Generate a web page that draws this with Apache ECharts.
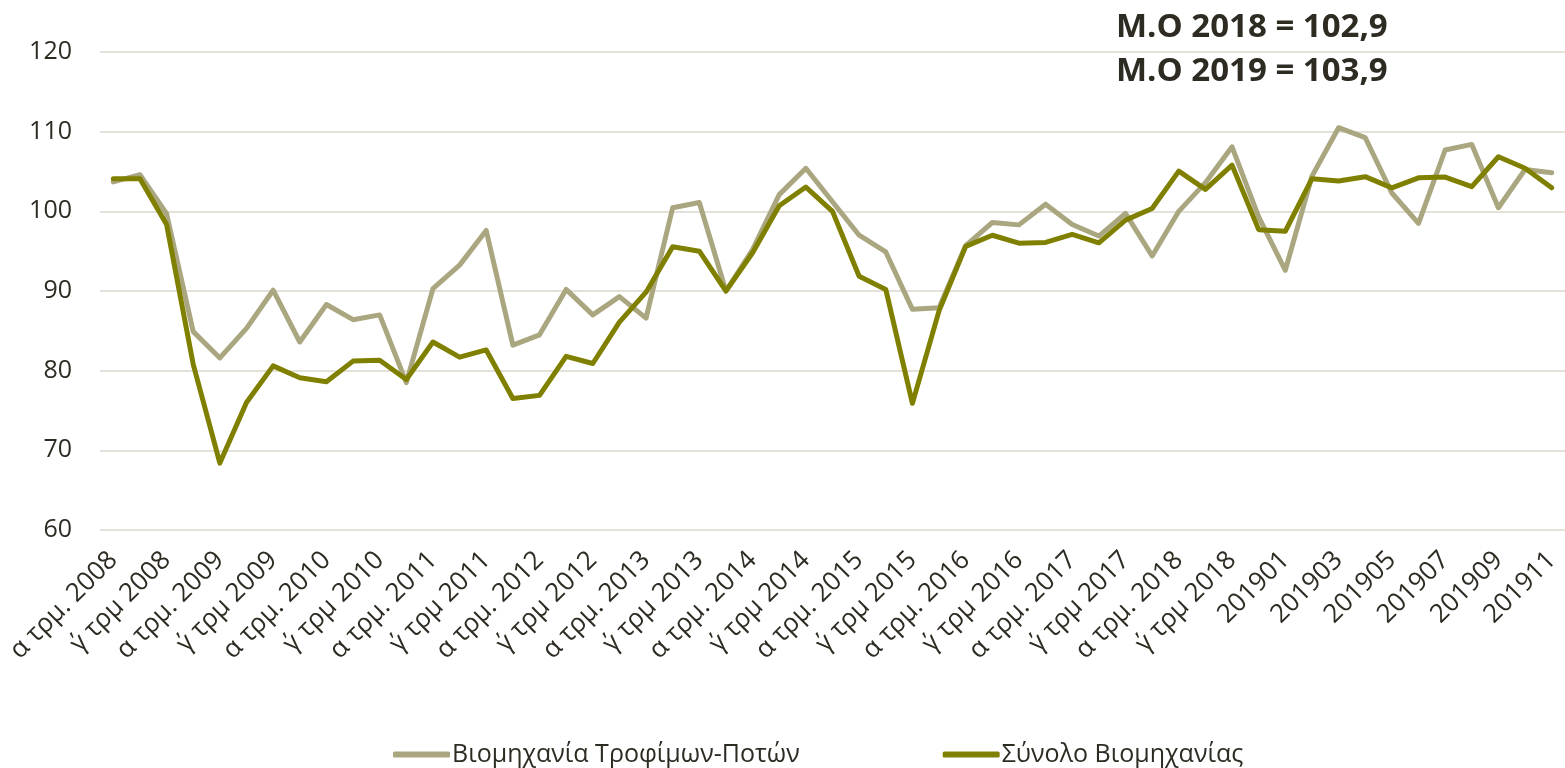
<!DOCTYPE html>
<html>
<head>
<meta charset="utf-8">
<script src="https://cdn.jsdelivr.net/npm/echarts@6/dist/echarts.min.js"></script>
<style>
  html, body { margin: 0; padding: 0; background: #fff; }
  #chart { width: 1565px; height: 768px; }
</style>
</head>
<body>
<div id="chart"></div>
<script>
const categories = [
  "α τρμ. 2008", "β΄ τρμ 2008", "γ΄ τρμ 2008", "δ΄ τρμ 2008",
  "α τρμ. 2009", "β΄ τρμ 2009", "γ΄ τρμ 2009", "δ΄ τρμ 2009",
  "α τρμ. 2010", "β΄ τρμ 2010", "γ΄ τρμ 2010", "δ΄ τρμ 2010",
  "α τρμ. 2011", "β΄ τρμ 2011", "γ΄ τρμ 2011", "δ΄ τρμ 2011",
  "α τρμ. 2012", "β΄ τρμ 2012", "γ΄ τρμ 2012", "δ΄ τρμ 2012",
  "α τρμ. 2013", "β΄ τρμ 2013", "γ΄ τρμ 2013", "δ΄ τρμ 2013",
  "α τρμ. 2014", "β΄ τρμ 2014", "γ΄ τρμ 2014", "δ΄ τρμ 2014",
  "α τρμ. 2015", "β΄ τρμ 2015", "γ΄ τρμ 2015", "δ΄ τρμ 2015",
  "α τρμ. 2016", "β΄ τρμ 2016", "γ΄ τρμ 2016", "δ΄ τρμ 2016",
  "α τρμ. 2017", "β΄ τρμ 2017", "γ΄ τρμ 2017", "δ΄ τρμ 2017",
  "α τρμ. 2018", "β΄ τρμ 2018", "γ΄ τρμ 2018", "δ΄ τρμ 2018",
  "201901", "201902", "201903", "201904", "201905", "201906",
  "201907", "201908", "201909", "201910", "201911"
];

// Βιομηχανία Τροφίμων-Ποτών
const foodDrinks = [
  103.7, 104.6, 99.7, 84.9, 81.6, 85.3, 90.1, 83.6, 88.3, 86.4,
  87.0, 78.5, 90.3, 93.25, 97.6, 83.2, 84.5, 90.2, 87.0, 89.3,
  86.6, 100.45, 101.1, 90.0, 95.2, 102.1, 105.4, 101.2, 97.0, 94.9,
  87.7, 87.9, 95.7, 98.6, 98.3, 100.9, 98.35, 96.9, 99.75, 94.4,
  100.0, 103.6, 108.1, 99.3, 92.6, 104.4, 110.5, 109.25, 102.3, 98.5,
  107.7, 108.4, 100.45, 105.25, 104.85
];

// Σύνολο Βιομηχανίας
const industryTotal = [
  104.1, 104.1, 98.35, 80.8, 68.4, 76.0, 80.6, 79.1, 78.6, 81.2,
  81.3, 78.9, 83.6, 81.7, 82.6, 76.5, 76.9, 81.8, 80.9, 86.1,
  89.85, 95.55, 95.0, 90.0, 94.8, 100.7, 103.05, 100.0, 91.85, 90.2,
  75.9, 87.5, 95.6, 97.0, 96.0, 96.1, 97.1, 96.05, 98.9, 100.35,
  105.05, 102.75, 105.8, 97.7, 97.5, 104.1, 103.8, 104.35, 102.95, 104.2,
  104.3, 103.1, 106.85, 105.4, 102.95
];

const seriesNames = ["Βιομηχανία Τροφίμων-Ποτών", "Σύνολο Βιομηχανίας"];
const averageNotes = ["M.O 2018 = 102,9", "M.O 2019 = 103,9"];

const FONT = "'Open Sans', 'Noto Sans', sans-serif";
const TEXT = "#2e2b22";
const LIGHT = "#aaa680";
const DARK = "#808000";
const GRID = "#e4e1d8";

const chart = echarts.init(document.getElementById("chart"), null, { renderer: "canvas" });

chart.setOption({
  animation: false,
  textStyle: { fontFamily: FONT, color: TEXT },
  title: {
    text: averageNotes.join("\n"),
    left: 1116,
    top: 6,
    padding: 0,
    textStyle: {
      fontFamily: FONT,
      fontSize: 33,
      fontWeight: "bold",
      color: TEXT,
      lineHeight: 44,
    },
  },
  grid: {
    left: 100,
    right: 0,
    top: 52,
    bottom: 238,
    containLabel: false,
  },
  legend: {
    top: 737,
    left: 388,
    itemGap: 143,
    itemWidth: 57,
    itemHeight: 6,
    icon: "roundRect",
    textStyle: { fontFamily: FONT, fontSize: 25, color: TEXT, padding: [0, 0, 0, -3] },
    data: seriesNames,
  },
  xAxis: {
    type: "category",
    data: categories,
    boundaryGap: true,
    axisLine: { show: false },
    axisTick: { show: false },
    axisLabel: {
      interval: 1,
      rotate: 45,
      fontFamily: FONT,
      fontSize: 26,
      color: TEXT,
      margin: 26,
    },
  },
  yAxis: {
    type: "value",
    min: 60,
    max: 120,
    interval: 10,
    axisLine: { show: false },
    axisTick: { show: false },
    axisLabel: {
      fontFamily: FONT,
      fontSize: 25,
      color: TEXT,
      margin: 28,
    },
    splitLine: { lineStyle: { color: GRID, width: 2 } },
  },
  series: [
    {
      name: seriesNames[0],
      type: "line",
      data: foodDrinks,
      symbol: "none",
      lineStyle: { color: LIGHT, width: 5, cap: "round", join: "round" },
      itemStyle: { color: LIGHT },
    },
    {
      name: seriesNames[1],
      type: "line",
      data: industryTotal,
      symbol: "none",
      lineStyle: { color: DARK, width: 5, cap: "round", join: "round" },
      itemStyle: { color: DARK },
    },
  ],
});
</script>
</body>
</html>
